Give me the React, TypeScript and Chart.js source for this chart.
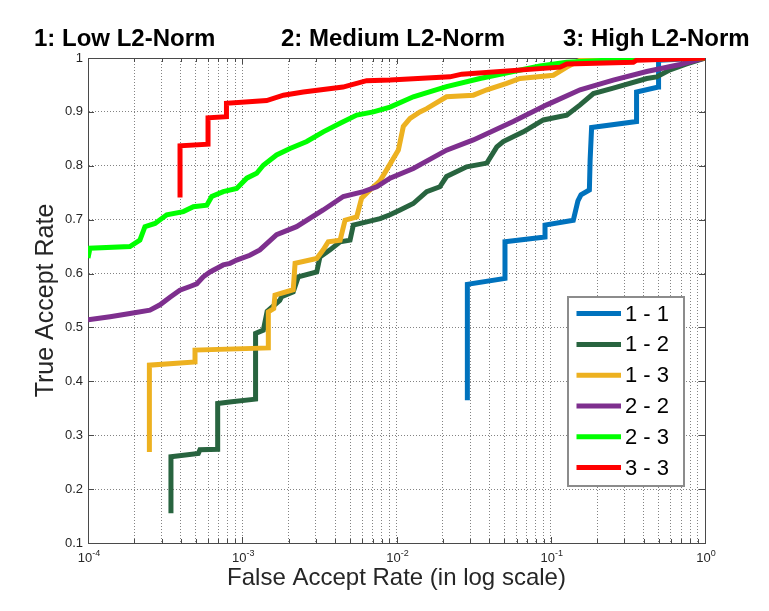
import React, { useEffect, useRef } from "react";
import { Chart, registerables } from "chart.js";

Chart.register(...registerables);

const FONT = "'Liberation Sans', Arial, Helvetica, sans-serif";

const HEADER_LABELS = ["1: Low L2-Norm", "2: Medium L2-Norm", "3: High L2-Norm"];
const X_TITLE = "False Accept Rate (in log scale)";
const Y_TITLE = "True Accept Rate";

const SERIES_LABELS = ["1 - 1", "1 - 2", "1 - 3", "2 - 2", "2 - 3", "3 - 3"];
const SERIES_COLORS = ["#0072BD", "#28643F", "#EDB120", "#7E2F8E", "#00FF00", "#FF0000"];

const X_GRID_VALUES = [
  0.0001, 0.0002, 0.0003, 0.0004, 0.0005, 0.0006, 0.0007, 0.0008, 0.0009,
  0.001, 0.002, 0.003, 0.004, 0.005, 0.006, 0.007, 0.008, 0.009,
  0.01, 0.02, 0.03, 0.04, 0.05, 0.06, 0.07, 0.08, 0.09,
  0.1, 0.2, 0.3, 0.4, 0.5, 0.6, 0.7, 0.8, 0.9,
  1,
];
const X_MAJOR_VALUES = [0.0001, 0.001, 0.01, 0.1, 1];
const X_MAJOR_BASE = "10";
const X_MAJOR_EXPONENTS = ["-4", "-3", "-2", "-1", "0"];
const Y_TICK_VALUES = [0.1, 0.2, 0.3, 0.4, 0.5, 0.6, 0.7, 0.8, 0.9, 1];
const Y_TICK_LABELS = ["0.1", "0.2", "0.3", "0.4", "0.5", "0.6", "0.7", "0.8", "0.9", "1"];

// 1 - 1
const FAR_11 = [0.0288, 0.0288, 0.0505, 0.0505, 0.0918, 0.0918, 0.14, 0.15, 0.157, 0.178, 0.18, 0.184, 0.36, 0.36, 0.498, 0.5, 1];
const TAR_11 = [0.365, 0.58, 0.591, 0.659, 0.668, 0.69, 0.699, 0.735, 0.746, 0.755, 0.811, 0.871, 0.882, 0.937, 0.946, 0.996, 1];

// 1 - 2
const FAR_12 = [
  0.000345, 0.000345, 0.000519, 0.000532, 0.000693, 0.000693, 0.000854, 0.00122, 0.00122, 0.00137,
  0.00145, 0.00175, 0.0018, 0.00214, 0.00231, 0.00304, 0.00319, 0.00371, 0.00431, 0.005,
  0.00525, 0.00641, 0.00782, 0.00908, 0.01055, 0.01285, 0.0157, 0.0191, 0.0211, 0.0285,
  0.0385, 0.0447, 0.0492, 0.0664, 0.0896, 0.127, 0.155, 0.189, 0.254, 0.419,
  0.486, 0.593, 0.76, 1,
];
const TAR_12 = [
  0.155, 0.26, 0.266, 0.273, 0.274, 0.359, 0.362, 0.367, 0.489, 0.495,
  0.53, 0.55, 0.557, 0.566, 0.594, 0.603, 0.631, 0.644, 0.659, 0.662,
  0.69, 0.696, 0.702, 0.709, 0.718, 0.73, 0.752, 0.761, 0.78, 0.798,
  0.805, 0.835, 0.845, 0.863, 0.885, 0.894, 0.913, 0.934, 0.944, 0.962,
  0.965, 0.978, 0.989, 1,
];

// 1 - 3
const FAR_13 = [
  0.00025, 0.00025, 0.000494, 0.000494, 0.001476, 0.001476, 0.0016, 0.00163, 0.00214, 0.0022,
  0.00304, 0.00335, 0.00361, 0.00431, 0.00464, 0.00552, 0.00594, 0.00673, 0.00782, 0.00886,
  0.01028, 0.01107, 0.01224, 0.01419, 0.0157, 0.0211, 0.0315, 0.0385, 0.0518, 0.0632,
  0.104, 0.127, 0.155, 1,
];
const TAR_13 = [
  0.269, 0.43, 0.436, 0.458, 0.462, 0.529, 0.535, 0.56, 0.57, 0.619,
  0.628, 0.644, 0.659, 0.662, 0.699, 0.705, 0.74, 0.755, 0.772, 0.798,
  0.829, 0.873, 0.888, 0.9, 0.906, 0.928, 0.931, 0.941, 0.953, 0.962,
  0.968, 0.983, 0.996, 1,
];

// 2 - 2
const FAR_22 = [
  0.0001, 0.000139, 0.000187, 0.000252, 0.000293, 0.00034, 0.000394, 0.000458, 0.000507, 0.000559,
  0.000618, 0.000753, 0.000833, 0.00092, 0.00112, 0.0013, 0.00167, 0.00225, 0.00335, 0.00452,
  0.0061, 0.00745, 0.00908, 0.01285, 0.0211, 0.0315, 0.0571, 0.0942, 0.155, 0.254,
  0.419, 0.689, 1,
];
const TAR_22 = [
  0.514, 0.52, 0.526, 0.532, 0.542, 0.556, 0.569, 0.576, 0.581, 0.594,
  0.603, 0.616, 0.619, 0.625, 0.634, 0.644, 0.672, 0.687, 0.718, 0.743,
  0.752, 0.761, 0.777, 0.795, 0.829, 0.848, 0.882, 0.913, 0.941, 0.959,
  0.975, 0.988, 1,
];

// 2 - 3
const FAR_23 = [
  0.0001, 0.000103, 0.000187, 0.000217, 0.000234, 0.000272, 0.000324, 0.000415, 0.000482, 0.000589,
  0.000634, 0.000753, 0.00092, 0.00107, 0.00124, 0.00137, 0.00167, 0.00204, 0.00262, 0.00335,
  0.00431, 0.00552, 0.00708, 0.00908, 0.01285, 0.0211, 0.0348, 0.0571, 0.0851, 0.127,
  0.199, 0.36, 1,
];
const TAR_23 = [
  0.629, 0.647, 0.65, 0.662, 0.687, 0.693, 0.709, 0.715, 0.724, 0.727,
  0.743, 0.752, 0.758, 0.777, 0.786, 0.801, 0.82, 0.832, 0.845, 0.863,
  0.879, 0.894, 0.9, 0.909, 0.928, 0.947, 0.962, 0.975, 0.985, 0.992,
  0.995, 0.998, 1,
];

// 3 - 3
const FAR_33 = [
  0.000395, 0.000395, 0.0006, 0.0006, 0.00079, 0.00079, 0.00144, 0.00185, 0.00249, 0.0045,
  0.0064, 0.0091, 0.0222, 0.0265, 0.115, 0.127, 0.343, 0.36, 1,
];
const TAR_33 = [
  0.741, 0.837, 0.84, 0.889, 0.891, 0.916, 0.921, 0.931, 0.937, 0.946,
  0.958, 0.959, 0.965, 0.97, 0.983, 0.989, 0.992, 0.996, 1,
];

const SERIES_FAR = [FAR_11, FAR_12, FAR_13, FAR_22, FAR_23, FAR_33];
const SERIES_TAR = [TAR_11, TAR_12, TAR_13, TAR_22, TAR_23, TAR_33];

const isMajor = (v: number) => X_MAJOR_VALUES.some((m) => Math.abs(m - v) / m < 1e-6);

const framePlugin = {
  id: "matlabFrame",
  beforeDatasetsDraw(chart: any) {
    const { ctx, chartArea } = chart;
    const { left, right, top, bottom } = chartArea;
    const xs = chart.scales.x;
    const ys = chart.scales.y;
    ctx.save();
    ctx.strokeStyle = "#4a4a4a";
    ctx.lineWidth = 1;
    ctx.beginPath();
    ctx.rect(Math.round(left) + 0.5, Math.round(top) + 0.5, Math.round(right - left), Math.round(bottom - top));
    ctx.stroke();
    ctx.beginPath();
    X_GRID_VALUES.forEach((v) => {
      const px = Math.round(xs.getPixelForValue(v)) + 0.5;
      const len = isMajor(v) ? 6 : 4;
      ctx.moveTo(px, bottom);
      ctx.lineTo(px, bottom - len);
      ctx.moveTo(px, top);
      ctx.lineTo(px, top + len);
    });
    Y_TICK_VALUES.forEach((v) => {
      const py = Math.round(ys.getPixelForValue(v)) + 0.5;
      ctx.moveTo(left, py);
      ctx.lineTo(left + 6, py);
      ctx.moveTo(right, py);
      ctx.lineTo(right - 6, py);
    });
    ctx.stroke();
    ctx.restore();
  },
};

const legendPlugin = {
  id: "matlabLegend",
  afterDatasetsDraw(chart: any) {
    const { ctx, chartArea } = chart;
    const boxW = 116;
    const boxH = 189;
    const bx = chartArea.right - 21 - boxW;
    const by = chartArea.bottom - 57 - boxH;
    ctx.save();
    ctx.fillStyle = "#ffffff";
    ctx.fillRect(bx, by, boxW, boxH);
    ctx.strokeStyle = "#8c8c8c";
    ctx.lineWidth = 2;
    ctx.strokeRect(bx, by, boxW, boxH);
    chart.data.datasets.forEach((ds: any, i: number) => {
      const cy = by + 16.6 + i * 30.8;
      ctx.strokeStyle = ds.borderColor;
      ctx.lineWidth = 5;
      ctx.lineCap = "butt";
      ctx.beginPath();
      ctx.moveTo(bx + 8.5, cy);
      ctx.lineTo(bx + 53, cy);
      ctx.stroke();
      ctx.fillStyle = "#000000";
      ctx.font = `22px ${FONT}`;
      ctx.textAlign = "left";
      ctx.textBaseline = "middle";
      ctx.fillText(ds.label, bx + 57, cy + 1);
    });
    ctx.restore();
  },
};

const textPlugin = {
  id: "matlabTexts",
  afterDraw(chart: any) {
    const { ctx, chartArea } = chart;
    const xs = chart.scales.x;
    ctx.save();
    // x tick labels: 10 with superscript exponent
    ctx.fillStyle = "#262626";
    ctx.textBaseline = "alphabetic";
    ctx.textAlign = "left";
    X_MAJOR_VALUES.forEach((v, i) => {
      const px = xs.getPixelForValue(v);
      ctx.font = `13px ${FONT}`;
      const wBase = ctx.measureText(X_MAJOR_BASE).width;
      ctx.font = `9px ${FONT}`;
      const wExp = ctx.measureText(X_MAJOR_EXPONENTS[i]).width;
      const x0 = px - (wBase + wExp) / 2 + 1;
      ctx.font = `13px ${FONT}`;
      ctx.fillText(X_MAJOR_BASE, x0, chartArea.bottom + 19);
      ctx.font = `9px ${FONT}`;
      ctx.fillText(X_MAJOR_EXPONENTS[i], x0 + wBase, chartArea.bottom + 13);
    });

    ctx.fillStyle = "#000000";
    ctx.font = `bold 24px ${FONT}`;
    const headerX = [34, 281, 563];
    HEADER_LABELS.forEach((t, i) => ctx.fillText(t, headerX[i], 46));
    ctx.fillStyle = "#262626";
    ctx.font = `24px ${FONT}`;
    ctx.textAlign = "center";
    ctx.fillText(X_TITLE, (chartArea.left + chartArea.right) / 2, 585);
    ctx.translate(53, (chartArea.top + chartArea.bottom) / 2);
    ctx.rotate(-Math.PI / 2);
    ctx.font = `25px ${FONT}`;
    ctx.fillText(Y_TITLE, 0, 0);
    ctx.restore();
  },
};

export default function App() {
  const canvasRef = useRef<HTMLCanvasElement | null>(null);

  useEffect(() => {
    if (!canvasRef.current) return;
    const datasets = SERIES_LABELS.map((label, i) => ({
      label,
      data: SERIES_FAR[i].map((x, j) => ({ x, y: SERIES_TAR[i][j] })),
      borderColor: SERIES_COLORS[i],
      backgroundColor: SERIES_COLORS[i],
      borderWidth: 5,
      pointRadius: 0,
      pointHoverRadius: 0,
      tension: 0,
      fill: false,
      borderJoinStyle: "miter" as const,
      borderCapStyle: "butt" as const,
      order: SERIES_LABELS.length - 1 - i,
    }));

    const chart = new Chart(canvasRef.current, {
      type: "line",
      data: { datasets },
      options: {
        animation: false,
        responsive: false,
        devicePixelRatio: 1,
        events: [],
        layout: { padding: { top: 58, right: 64, left: 0, bottom: 0 } },
        plugins: {
          legend: { display: false },
          title: { display: false },
          tooltip: { enabled: false },
        },
        scales: {
          x: {
            type: "logarithmic",
            min: 0.0001,
            max: 1,
            afterBuildTicks: (scale: any) => {
              scale.ticks = X_GRID_VALUES.map((v) => ({ value: v, major: isMajor(v) }));
            },
            afterFit: (scale: any) => {
              scale.height = 68;
            },
            ticks: {
              autoSkip: false,
              maxRotation: 0,
              minRotation: 0,
              padding: 4,
              color: "#262626",
              font: { family: FONT, size: 13 },
              callback: () => "",
            },
            grid: {
              color: "rgba(90,90,90,0.75)",
              lineWidth: 1,
              drawTicks: false,
            },
            border: { display: true, color: "#4a4a4a", width: 1, dash: [1, 2] },
          },
          y: {
            type: "linear",
            min: 0.1,
            max: 1,
            afterBuildTicks: (scale: any) => {
              scale.ticks = Y_TICK_VALUES.map((v) => ({ value: v }));
            },
            afterFit: (scale: any) => {
              scale.width = 88;
            },
            ticks: {
              padding: 5,
              color: "#262626",
              font: { family: FONT, size: 13 },
              callback: (value: any) => {
                const v = Number(value);
                const idx = Y_TICK_VALUES.findIndex((t) => Math.abs(t - v) < 1e-6);
                return idx >= 0 ? Y_TICK_LABELS[idx] : "";
              },
            },
            grid: {
              color: "rgba(90,90,90,0.75)",
              lineWidth: 1,
              drawTicks: false,
            },
            border: { display: true, color: "#4a4a4a", width: 1, dash: [1, 2] },
          },
        },
      },
      plugins: [framePlugin, legendPlugin, textPlugin],
    } as any);

    return () => {
      chart.destroy();
    };
  }, []);

  return (
    <div style={{ position: "absolute", left: 0, top: 0, width: 769, height: 611, background: "#ffffff" }}>
      <canvas ref={canvasRef} width={769} height={611} style={{ display: "block" }} />
    </div>
  );
}
